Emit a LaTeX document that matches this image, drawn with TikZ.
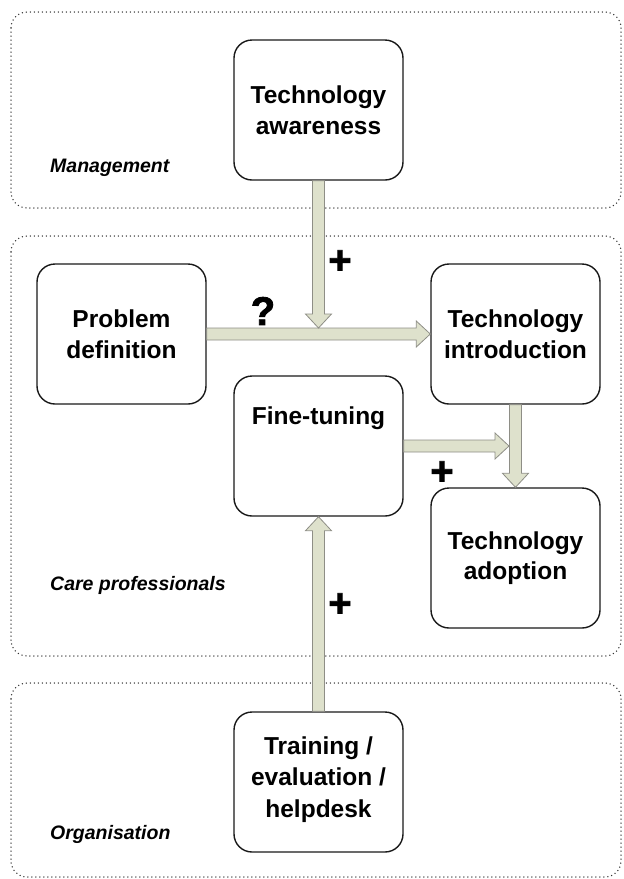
\documentclass[tikz,border=0pt]{standalone}
\usepackage{fontspec}
\setmainfont{Liberation Sans}
\newfontfamily\signfont[FakeBold=2]{Liberation Sans Bold}
\usetikzlibrary{calc}
\definecolor{arrfill}{HTML}{DEE1CC}
\definecolor{arrline}{HTML}{8E8E86}
\definecolor{regline}{HTML}{333333}
\tikzset{
  box/.style={draw=black!90, line width=1.4pt, rounded corners=18pt, fill=white,
    minimum width=169pt, minimum height=140pt, align=center, inner sep=2pt,
    font=\bfseries\fontsize{24.5}{30.5}\selectfont},
  region/.style={draw=regline, line width=1.5pt, dash pattern=on 0pt off 4pt, line cap=round, rounded corners=16pt},
  reglabel/.style={anchor=base west, inner sep=0pt, font=\bfseries\itshape\fontsize{19.5}{23}\selectfont},
  sign/.style={inner sep=0pt, font=\signfont\fontsize{40}{42}\selectfont},
  barrow/.style={draw=arrline, fill=arrfill, line width=0.8pt, line join=miter}
}
\newcommand\arrD[2]{\filldraw[barrow] ($(#1)+(-6,0)$) -- ($(#2)+(-6,-14)$) -- ($(#2)+(-13,-14)$) -- (#2) -- ($(#2)+(13,-14)$) -- ($(#2)+(6,-14)$) -- ($(#1)+(6,0)$) -- cycle;}
\newcommand\arrU[2]{\filldraw[barrow] ($(#1)+(-6,0)$) -- ($(#2)+(-6,14)$) -- ($(#2)+(-13,14)$) -- (#2) -- ($(#2)+(13,14)$) -- ($(#2)+(6,14)$) -- ($(#1)+(6,0)$) -- cycle;}
\newcommand\arrR[2]{\filldraw[barrow] ($(#1)+(0,-6)$) -- ($(#2)+(-14,-6)$) -- ($(#2)+(-14,-13)$) -- (#2) -- ($(#2)+(-14,13)$) -- ($(#2)+(-14,6)$) -- ($(#1)+(0,6)$) -- cycle;}
\begin{document}
\begin{tikzpicture}[x=1pt,y=-1pt]
\useasboundingbox (0,0) rectangle (624,879);
% regions
\draw[region] (11,12) rectangle (621,208);
\draw[region] (11,236) rectangle (621,656);
\draw[region] (11,683) rectangle (621,877);
\node[reglabel] (lm) at (50,172) {Management};
\node[reglabel] (lc) at (50,590) {Care professionals};
\node[reglabel] (lo) at (50,839) {Organisation};
% boxes
\node[box] (aw) at (318.5,110) {Technology\\awareness};
\node[box] (pd) at (121.5,334) {Problem\\definition};
\node[box] (ti) at (515.5,334) {Technology\\introduction};
\node[box] (ft) at (318.5,446) {Fine-tuning\\ \mbox{}\\ \mbox{}};
\node[box] (ta) at (515.5,558) {Technology\\adoption};
\node[box] (tr) at (318.5,782) {Training /\\[1pt]evaluation /\\[1pt]helpdesk\\[-20pt]\mbox{}};
% connectors
\coordinate (j) at ($(aw.south |- pd.east)+(0,-6)$);
\coordinate (k) at ($(ft.east -| ti.south)+(-6.5,0)$);
\arrR{pd.east}{ti.west}
\arrD{aw.south}{j}
\arrD{ti.south}{ta.north}
\arrR{ft.east}{k}
\arrU{tr.north}{ft.south}
% signs
\node[sign] (s1) at (340,262) {+};
\node[sign] (s2) at (263,311) {?};
\node[sign] (s3) at (442,473) {+};
\node[sign] (s4) at (340,605) {+};
\end{tikzpicture}
\end{document}
